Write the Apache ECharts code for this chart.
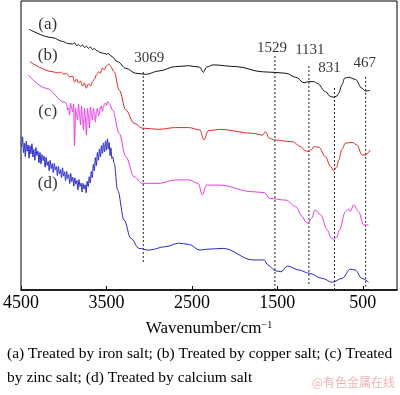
<!DOCTYPE html>
<html>
<head>
<meta charset="utf-8">
<script src="https://cdn.jsdelivr.net/npm/echarts@6/dist/echarts.min.js"></script>
<style>
html,body{margin:0;padding:0;background:#fff;}
#c{width:400px;height:395px;}
</style>
</head>
<body>
<div id="c"></div>
<script>
// ---- data (wavenumber cm^-1, relative transmittance, arbitrary units) ----
const tickValues = [4500, 3500, 2500, 1500, 500];

const curveA = [[4404,90.2],[4129,87.3],[4012,86.0],[3954,85.3],[3896,85.1],[3873,85.5],[3850,84.6],[3827,84.9],[3803,84.3],[3780,84.8],[3757,83.9],[3734,84.4],[3711,83.6],[3687,84.1],[3664,83.2],[3641,83.6],[3618,82.9],[3563,82.1],[3498,81.6],[3478,81.8],[3447,81.0],[3370,79.0],[3273,76.7],[3157,75.0],[3041,74.6],[2886,75.8],[2692,77.3],[2538,77.6],[2407,77.1],[2367,75.3],[2329,77.1],[2251,77.9],[1981,77.3],[1671,75.5],[1536,75.3],[1400,75.0],[1284,73.6],[1188,71.7],[1137,72.1],[1072,72.1],[1032,71.5],[936,68.6],[880,67.0],[845,66.7],[810,67.0],[782,68.1],[745,71.0],[712,73.3],[666,73.6],[588,72.9],[510,69.8],[472,68.9],[414,69.0]];

const curveB = [[4396,79.0],[4125,75.5],[4070,75.1],[4036,75.4],[4001,74.7],[3966,74.9],[3931,73.7],[3896,74.0],[3873,71.9],[3850,73.0],[3827,71.6],[3803,72.3],[3780,70.6],[3757,71.6],[3737,69.8],[3711,71.3],[3687,70.6],[3661,72.1],[3641,73.0],[3618,74.4],[3594,75.4],[3571,75.1],[3548,76.8],[3525,76.1],[3502,77.5],[3475,78.2],[3455,77.5],[3409,75.5],[3351,69.2],[3273,62.3],[3177,57.7],[3080,56.0],[2886,55.6],[2692,56.2],[2538,56.2],[2407,55.4],[2360,51.9],[2309,55.1],[2175,55.6],[1787,54.2],[1671,53.6],[1641,54.8],[1594,52.5],[1536,51.9],[1323,51.3],[1226,49.6],[1180,48.3],[1140,47.9],[1100,48.6],[1072,49.6],[1014,49.4],[936,46.1],[880,42.8],[840,41.3],[805,42.6],[782,45.0],[745,48.6],[704,50.8],[626,51.1],[568,50.2],[510,46.7],[472,46.7],[414,48.4]];

const curveC = [[4415,74.4],[4202,69.8],[3995,65.0],[3969,64.6],[3955,62.3],[3943,63.0],[3932,60.5],[3920,64.6],[3908,62.8],[3896,61.6],[3885,64.4],[3873,49.8],[3861,63.0],[3850,60.2],[3838,58.8],[3827,64.4],[3815,60.7],[3803,57.1],[3792,63.7],[3780,59.5],[3769,55.4],[3757,62.9],[3746,59.8],[3734,53.6],[3722,62.9],[3711,60.4],[3699,56.1],[3687,63.3],[3676,61.0],[3664,58.8],[3653,62.9],[3641,61.2],[3629,58.1],[3618,61.8],[3606,62.9],[3594,60.2],[3583,60.9],[3571,63.4],[3560,63.7],[3548,61.8],[3536,62.9],[3525,64.3],[3513,64.7],[3500,63.8],[3487,65.2],[3467,64.4],[3428,62.3],[3351,54.2],[3273,46.1],[3177,39.2],[3080,36.9],[2886,36.9],[2692,38.1],[2538,38.1],[2425,36.9],[2379,32.9],[2329,36.3],[2175,36.3],[1787,34.0],[1652,33.7],[1594,31.7],[1400,31.1],[1284,28.8],[1207,25.4],[1170,23.6],[1140,23.1],[1100,24.8],[1060,27.7],[994,26.0],[916,20.8],[870,18.0],[840,17.5],[805,18.3],[774,20.8],[704,27.1],[666,28.0],[646,27.3],[608,29.4],[549,27.1],[491,22.5],[433,22.5]];

const curveD = [[4492,49.6],[4482,53.0],[4470,47.5],[4460,50.8],[4450,46.2],[4438,51.5],[4428,48.0],[4418,50.2],[4405,45.6],[4395,49.9],[4384,47.1],[4372,50.6],[4360,46.0],[4350,48.7],[4338,44.9],[4326,49.3],[4314,46.5],[4302,48.1],[4290,44.0],[4278,47.6],[4266,43.6],[4254,46.9],[4242,44.8],[4230,46.3],[4218,42.5],[4206,45.9],[4194,43.1],[4182,44.5],[4170,41.3],[4158,44.9],[4146,42.0],[4134,43.7],[4122,40.6],[4110,43.8],[4098,41.5],[4086,42.7],[4074,39.6],[4062,42.8],[4050,40.2],[4038,41.6],[4026,38.9],[4014,42.3],[4002,39.4],[3990,40.9],[3978,37.8],[3966,41.0],[3954,38.6],[3942,39.9],[3930,36.8],[3918,40.3],[3906,37.5],[3894,39.0],[3882,35.9],[3870,38.8],[3858,36.6],[3846,37.9],[3834,34.6],[3822,38.2],[3810,35.8],[3798,37.0],[3786,33.9],[3774,36.9],[3762,35.0],[3750,36.4],[3738,33.6],[3726,37.6],[3714,35.8],[3702,39.2],[3690,37.0],[3678,41.0],[3666,38.8],[3654,43.5],[3642,41.2],[3630,45.8],[3618,43.0],[3606,47.6],[3594,44.9],[3582,48.8],[3570,46.1],[3558,50.0],[3546,47.3],[3534,50.9],[3522,47.8],[3510,51.6],[3498,48.4],[3488,52.3],[3478,48.9],[3468,51.0],[3458,46.5],[3448,49.2],[3436,45.5],[3428,46.1],[3409,43.9],[3370,34.6],[3293,24.2],[3215,17.9],[3119,14.4],[3002,13.8],[2809,15.0],[2654,16.2],[2538,15.8],[2407,13.8],[2329,14.1],[2135,14.4],[1787,10.4],[1652,10.4],[1613,8.7],[1525,6.7],[1458,6.3],[1381,8.3],[1246,6.9],[1130,5.8],[974,4.0],[858,2.7],[742,4.0],[646,7.2],[588,6.9],[510,4.0],[433,2.7]];

const curveNames = ['(a)', '(b)', '(c)', '(d)'];
const curveLabelWn = [4187, 4187, 4187, 4187];
const curveLabelT = [92.0, 81.0, 61.9, 36.7];

const peakWn = [3069, 1529, 1131, 831, 467];
const peakTop = [76.1, 81.0, 77.9, 70.0, 73.8];
const peakBottom = [9.7, 0, 2.1, 0, 1.1];
const peakLabelT = [80.3, 83.7, 83.0, 76.8, 78.4];
const peakLabelDx = [6, -3, 1, -5, -1];

const captionLines = [
  '(a) Treated by iron salt; (b) Treated by copper salt; (c) Treated',
  'by zinc salt; (d) Treated by calcium salt'
];
// ------------------------------------------------------------------------

const FONT = 'Liberation Serif';
const colors = ['#111111', '#dc2a2a', '#e43ce4', '#2828c8'];
const curves = [curveA, curveB, curveC, curveD];

const series = [];
curves.forEach((d, i) => {
  series.push({
    type: 'line', data: d, showSymbol: false, smooth: 0.35, smoothMonotone: 'x',
    lineStyle: { color: colors[i], width: 1 }, silent: true, z: 3
  });
});
peakWn.forEach((w, i) => {
  series.push({
    type: 'line', data: [[w, peakBottom[i]], [w, peakTop[i]]], showSymbol: false,
    lineStyle: { color: '#222', width: 1, type: [2, 2] }, silent: true, z: 2
  });
});
series.push({
  type: 'scatter', symbolSize: 1, itemStyle: { color: 'rgba(0,0,0,0)' },
  data: peakWn.map((w, i) => ({
    value: [w, peakLabelT[i]], name: String(w),
    label: { offset: [peakLabelDx[i], 0] }
  })),
  label: { show: true, position: 'inside', formatter: p => p.name,
    fontFamily: FONT, fontSize: 15, color: '#000' },
  silent: true, z: 5
});
series.push({
  type: 'scatter', symbolSize: 1, itemStyle: { color: 'rgba(0,0,0,0)' },
  data: curveNames.map((n, i) => ({ value: [curveLabelWn[i], curveLabelT[i]], name: n })),
  label: { show: true, position: 'inside', formatter: p => p.name,
    fontFamily: FONT, fontSize: 17, color: '#000' },
  silent: true, z: 5
});

const chart = echarts.init(document.getElementById('c'), null, { renderer: 'canvas' });
chart.setOption({
  animation: false,
  backgroundColor: '#fff',
  grid: { left: 18, right: 3, top: 1, bottom: 105, show: true, borderColor: '#000', borderWidth: 1 },
  xAxis: {
    type: 'value', min: 100, max: 4500, inverse: true,
    axisLine: { show: true, onZero: false, lineStyle: { color: '#000', width: 1.5 } },
    axisTick: { show: true, inside: true, length: 4, customValues: tickValues, lineStyle: { color: '#000' } },
    axisLabel: { customValues: tickValues, formatter: v => String(v), color: '#000', fontFamily: FONT, fontSize: 18, margin: 4 },
    splitLine: { show: false },
    name: '{a|Wavenumber/cm}{s|−1}',
    nameLocation: 'middle', nameGap: 30,
    nameTextStyle: {
      rich: {
        a: { fontFamily: FONT, fontSize: 17, color: '#000' },
        s: { fontFamily: FONT, fontSize: 10, color: '#000', verticalAlign: 'top', padding: [0, 0, 8, 0] }
      }
    }
  },
  yAxis: { type: 'value', min: 0, max: 100, show: false },
  series: series,
  graphic: [
    { type: 'text', left: 7, top: 346, style: { text: captionLines[0], fontFamily: FONT, fontSize: 15.5, fill: '#000' } },
    { type: 'text', left: 7, top: 370, style: { text: captionLines[1], fontFamily: FONT, fontSize: 15.5, fill: '#000' } },
    { type: 'text', right: 5, top: 376, style: { text: '@有色金属在线', fontFamily: 'Noto Sans CJK SC', fontSize: 12, fill: '#f2b3b3' } }
  ]
});
</script>
</body>
</html>
